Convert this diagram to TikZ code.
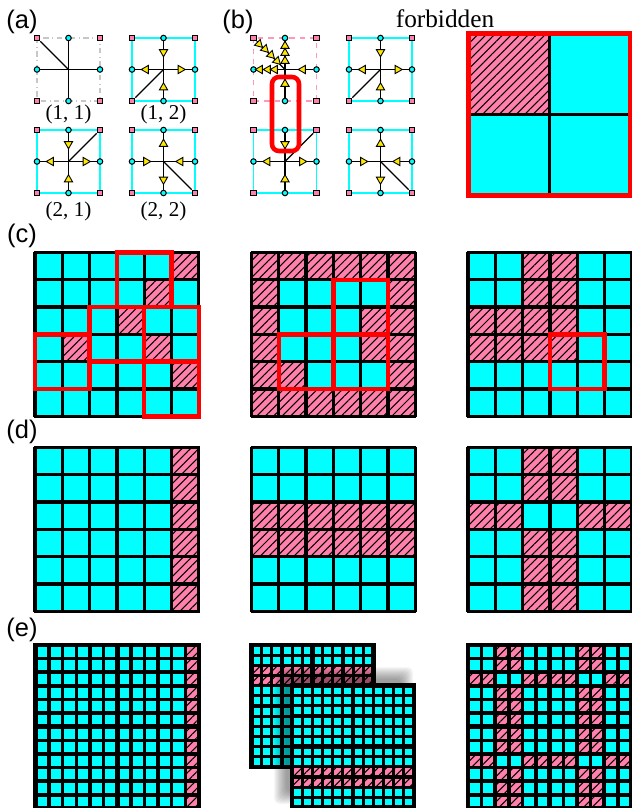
\documentclass[tikz,border=0pt]{standalone}
\usepackage{fontspec}
\setmainfont{Liberation Serif}
\newfontfamily\panelfont{Liberation Sans}
\usepackage{tikz}
\usetikzlibrary{arrows.meta,shapes.geometric,positioning,calc,patterns.meta,backgrounds}

\definecolor{hatchpink}{RGB}{255,128,170}
\definecolor{sitecyan}{RGB}{0,255,255}

% plaquette: name, centre x, centre y, frame style
\newcommand{\plaq}[4]{%
  \node[corner] (#1nw) at (#2-31.5,#3-31.5) {};
  \node[corner] (#1ne) at (#2+31.5,#3-31.5) {};
  \node[corner] (#1sw) at (#2-31.5,#3+31.5) {};
  \node[corner] (#1se) at (#2+31.5,#3+31.5) {};
  \node[site] (#1n) at (#2,#3-31.5) {};
  \node[site] (#1s) at (#2,#3+31.5) {};
  \node[site] (#1w) at (#2-31.5,#3) {};
  \node[site] (#1e) at (#2+31.5,#3) {};
  \coordinate (#1c) at (#2,#3);
  \begin{scope}[on background layer]
    \draw[#4] (#1nw) rectangle (#1se);
  \end{scope}
  \draw[link] (#1c) -- (#1n);
  \draw[link] (#1c) -- (#1s);
  \draw[link] (#1c) -- (#1w);
  \draw[link] (#1c) -- (#1e);
}
% triangles of a plaquette: name, x, y, rotations N E S W
\newcommand{\plaqtri}[7]{%
  \node[tri, rotate=#4] (#1tn) at (#2,#3-17.5) {};
  \node[tri, rotate=#5] (#1te) at (#2+17,#3) {};
  \node[tri, rotate=#6] (#1ts) at (#2,#3+18) {};
  \node[tri, rotate=#7] (#1tw) at (#2-17.5,#3) {};
}
% cells: x0, y0, pitch, n, line width, hatched cells col/row
\newcommand{\cellgrid}[6]{%
  \fill[sitecyan] (#1,#2) rectangle ({#1+#4*#3},{#2+#4*#3});
  \foreach \c/\r in {#6} {
    \fill[hatchpink] ({#1+(\c-1)*#3},{#2+(\r-1)*#3}) rectangle ({#1+\c*#3},{#2+\r*#3});
    \fill[hatched] ({#1+(\c-1)*#3},{#2+(\r-1)*#3}) rectangle ({#1+\c*#3},{#2+\r*#3});
  }
  \foreach \i in {0,...,#4} {
    \draw[line width=#5] ({#1+\i*#3},{#2-1}) -- ({#1+\i*#3},{#2+#4*#3+1});
    \draw[line width=#5] ({#1-1},{#2+\i*#3}) -- ({#1+#4*#3+1},{#2+\i*#3});
  }
}

\begin{document}
\begin{tikzpicture}[
    x=0.02cm, y=-0.02cm,
    corner/.style={draw, rectangle, fill=hatchpink, line width=0.7pt, minimum size=0.11cm, inner sep=0pt},
    site/.style={draw, circle, fill=sitecyan, line width=0.6pt, minimum size=0.11cm, inner sep=0pt},
    link/.style={line width=0.75pt, black},
    tri/.style={draw, regular polygon, regular polygon sides=3, fill=yellow!90!orange, line width=0.5pt, minimum size=0.19cm, inner sep=0pt},
    cyanframe/.style={draw=sitecyan, line width=0.8pt},
    grayframe/.style={draw=black!22, line width=0.6pt, dash dot},
    pinkframe/.style={draw=hatchpink!80, line width=0.7pt, dashed},
    hatched/.style={pattern={Lines[angle=45,distance=3.4pt,line width=0.6pt]}, pattern color=black},
    redbox/.style={draw=red, line width=2.6pt},
    tilerim/.style={draw=black, line width=2.8pt},
    panel/.style={font=\panelfont\fontsize{14.5}{14.5}\selectfont},
    coord/.style={font=\fontsize{12}{12}\selectfont}
]
\useasboundingbox (0,0) rectangle (632,808);

\node[panel] (lbla) at (22,22) {(a)};
\node[panel] (lblb) at (238,22) {(b)};
\node[panel] (lblc) at (22,236) {(c)};
\node[panel] (lbld) at (22,432) {(d)};
\node[panel] (lble) at (22,630) {(e)};
\node[font=\fontsize{14.4}{14.4}\selectfont] (forb) at (445,19) {forbidden};

% panel (a)
\plaq{aa}{68.5}{69.5}{grayframe}
\draw[link] (aac) -- (aanw);
\plaq{ab}{163.5}{69.5}{cyanframe}
\plaqtri{ab}{163.5}{69.5}{180}{-90}{0}{90}
\draw[link] (abc) -- (absw);
\plaq{ac}{68.5}{161.5}{cyanframe}
\plaqtri{ac}{68.5}{161.5}{180}{-90}{0}{90}
\draw[link] (acc) -- (acne);
\plaq{ad}{163.5}{161.5}{cyanframe}
\plaqtri{ad}{163.5}{161.5}{0}{90}{180}{-90}
\draw[link] (adc) -- (adse);
\node[coord] (ta) at (68.5,114) {(1, 1)};
\node[coord] (tb) at (163.5,114) {(1, 2)};
\node[coord] (tc) at (68.5,211) {(2, 1)};
\node[coord] (td) at (163.5,211) {(2, 2)};

% panel (b)
\plaq{ba}{285}{69.5}{pinkframe}
\draw[link] (bac) -- (banw);
\foreach \x/\y/\n in {259/44/1,265/49/2,271/55/3,277/61/4} {
  \node[tri, rotate=-135] (bad\n) at (\x,\y) {};
}
\foreach \y/\n in {46/1,53/2,61/3} {
  \node[tri] (bau\n) at (285,\y) {};
}
\foreach \x/\n in {260/1,268/2,275/3} {
  \node[tri, rotate=90] (bal\n) at (\x,69.5) {};
}
\node[tri, rotate=90] (bar) at (303,69.5) {};
\node[tri] (bas) at (285,84) {};
\plaq{bb}{380.5}{69.5}{cyanframe}
\plaqtri{bb}{380.5}{69.5}{180}{-90}{0}{90}
\draw[link] (bbc) -- (bbsw);
\plaq{bc}{285}{161.5}{cyanframe}
\plaqtri{bc}{285}{161.5}{180}{-90}{0}{90}
\draw[link] (bcc) -- (bcne);
\plaq{bd}{380.5}{161.5}{cyanframe}
\plaqtri{bd}{380.5}{161.5}{0}{90}{180}{-90}
\draw[link] (bdc) -- (bdse);
\draw[redbox, rounded corners=0.14cm] (272,77) rectangle (299,151);

% forbidden plaquette
\cellgrid{468.3}{33.3}{81}{2}{1.4pt}{1/1}
\draw[redbox, line width=3.1pt] (468.3,33.3) rectangle (630.3,195.3);

% panel (c)
\cellgrid{35}{252.5}{27.3}{6}{1.9pt}{6/1,5/2,4/3,2/4,5/4,6/5}
\draw[redbox] (116.9,252.5) rectangle (171.5,307.1);
\draw[redbox] (89.6,307.1) rectangle (144.2,361.7);
\draw[redbox] (144.2,307.1) rectangle (198.8,361.7);
\draw[redbox] (144.2,361.7) rectangle (198.8,416.3);
\draw[redbox] (35,334.4) rectangle (89.6,389);
\cellgrid{251.5}{252.5}{27.3}{6}{1.9pt}{1/1,2/1,3/1,4/1,5/1,6/1,1/2,6/2,1/3,5/3,6/3,1/4,5/4,6/4,1/5,2/5,6/5,1/6,2/6,3/6,4/6,5/6,6/6}
\draw[redbox] (333.4,279.8) rectangle (388,334.4);
\draw[redbox] (278.8,334.4) rectangle (333.4,389);
\draw[redbox] (333.4,334.4) rectangle (388,389);
\cellgrid{468}{252.5}{27.3}{6}{1.9pt}{3/1,4/1,3/2,4/2,1/3,2/3,3/3,4/3,1/4,2/4,3/4,4/4}
\draw[redbox] (549.9,334.4) rectangle (604.5,389);

% panel (d)
\cellgrid{35}{447.5}{27.3}{6}{1.9pt}{6/1,6/2,6/3,6/4,6/5,6/6}
\cellgrid{251.5}{447.5}{27.3}{6}{1.9pt}{1/3,2/3,3/3,4/3,5/3,6/3,1/4,2/4,3/4,4/4,5/4,6/4}
\cellgrid{468}{447.5}{27.3}{6}{1.9pt}{3/1,4/1,3/2,4/2,1/3,2/3,5/3,6/3,3/4,4/4,3/5,4/5,3/6,4/6}

% panel (e)
\cellgrid{35.5}{645}{13.62}{12}{2pt}{12/1,12/2,12/3,12/4,12/5,12/6,12/7,12/8,12/9,12/10,12/11,12/12}
\draw[tilerim] (35.5,645) rectangle (199,808.5);
\draw[tilerim] (117.2,645) -- (117.2,808.5);
\draw[tilerim] (35.5,726.7) -- (199,726.7);

\cellgrid{251.5}{645}{10.17}{12}{1.8pt}{1/3,2/3,3/3,4/3,5/3,6/3,7/3,8/3,9/3,10/3,11/3,12/3,1/4,2/4,3/4,4/4,5/4,6/4,7/4,8/4,9/4,10/4,11/4,12/4}
\draw[tilerim, line width=2.6pt] (251.5,645) rectangle (373.5,767);
\draw[tilerim, line width=2.6pt] (312.5,645) -- (312.5,767);
\draw[tilerim, line width=2.6pt] (251.5,706) -- (373.5,706);
\foreach \k in {-6,...,6} {
  \fill[black, opacity=0.035, rounded corners=0.1cm] ({280-\k},{673-\k}) rectangle ({407+\k},{798+\k});
}
\cellgrid{292}{685.5}{10.17}{12}{1.8pt}{1/9,2/9,3/9,4/9,5/9,6/9,7/9,8/9,9/9,10/9,11/9,12/9,1/10,2/10,3/10,4/10,5/10,6/10,7/10,8/10,9/10,10/10,11/10,12/10}
\draw[tilerim, line width=2.6pt] (292,685.5) rectangle (414,807.5);
\draw[tilerim, line width=2.6pt] (353,685.5) -- (353,807.5);
\draw[tilerim, line width=2.6pt] (292,746.5) -- (414,746.5);

\cellgrid{468}{645}{13.62}{12}{2pt}{3/1,4/1,9/1,10/1,3/2,4/2,9/2,10/2,1/3,2/3,5/3,6/3,7/3,8/3,11/3,12/3,3/4,4/4,9/4,10/4,3/5,4/5,9/5,10/5,3/6,4/6,9/6,10/6,3/7,4/7,9/7,10/7,3/8,4/8,9/8,10/8,1/9,2/9,5/9,6/9,7/9,8/9,11/9,12/9,3/10,4/10,9/10,10/10,3/11,4/11,9/11,10/11,3/12,4/12,9/12,10/12}
\draw[tilerim] (468,645) rectangle (631.5,808.5);
\draw[tilerim] (549.7,645) -- (549.7,808.5);
\draw[tilerim] (468,726.7) -- (631.5,726.7);
\end{tikzpicture}
\end{document}
